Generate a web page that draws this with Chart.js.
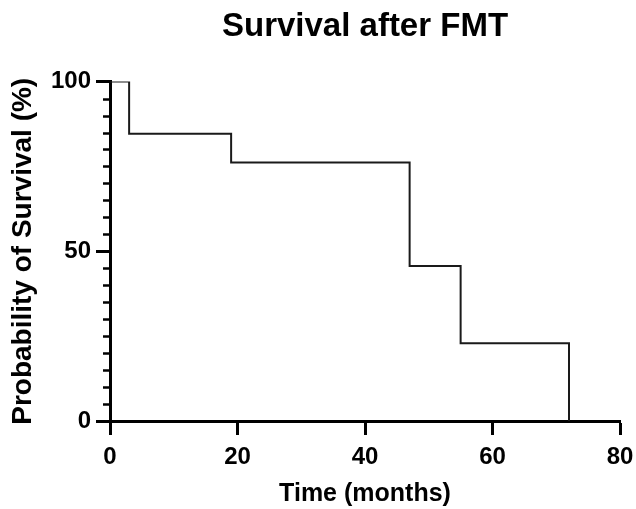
<!DOCTYPE html>
<html>
<head>
<meta charset="utf-8">
<script src="https://cdn.jsdelivr.net/npm/chart.js@4/dist/chart.umd.min.js"></script>
<style>
  html, body { margin: 0; padding: 0; background: #fff; }
  #wrap { width: 636px; height: 509px; }
</style>
</head>
<body>
<div id="wrap"><canvas id="km"></canvas></div>
<script>
// Kaplan-Meier survival after FMT
const timeMonths = [0, 3, 19, 47, 55, 72];
const survivalPct = [100, 84.6, 76.2, 45.7, 22.9, 0];
const xTicks = [0, 20, 40, 60, 80];
const yTicks = [0, 50, 100];
const yMinorStep = 5;

const FONT = "'Liberation Sans', Arial, sans-serif";

// short minor ticks on the y axis (Prism style)
const minorTicks = {
  id: 'minorTicks',
  afterDraw(chart) {
    const y = chart.scales.y;
    const ctx = chart.ctx;
    const x0 = y.right;
    ctx.save();
    ctx.strokeStyle = '#000';
    ctx.lineWidth = 2.5;
    for (let v = y.min; v <= y.max; v += yMinorStep) {
      if (yTicks.includes(v)) continue;
      const py = Math.round(y.getPixelForValue(v)) + 0.5;
      ctx.beginPath();
      ctx.moveTo(x0 - 7, py);
      ctx.lineTo(x0, py);
      ctx.stroke();
    }
    ctx.restore();
  }
};

new Chart(document.getElementById('km'), {
  type: 'line',
  data: {
    datasets: [{
      data: timeMonths.map((t, i) => ({ x: t, y: survivalPct[i] })),
      stepped: 'before',
      borderColor: '#1a1a1a',
      borderWidth: 2,
      pointRadius: 0,
      fill: false
    }]
  },
  options: {
    responsive: true,
    maintainAspectRatio: false,
    animation: false,
    layout: { padding: { left: 0, right: 16, top: 0, bottom: 0 } },
    plugins: {
      legend: { display: false },
      tooltip: { enabled: false },
      title: {
        display: true,
        text: 'Survival after FMT',
        color: '#000',
        fullSize: false,
        font: { family: FONT, size: 33, weight: 'bold' },
        padding: { top: 7, bottom: 35 }
      }
    },
    scales: {
      x: {
        type: 'linear',
        min: 0,
        max: 80,
        afterBuildTicks: s => { s.ticks = xTicks.map(v => ({ value: v })); },
        afterFit: s => { s.height = 88; s.paddingRight = 0; s.paddingLeft = 0; },
        border: { display: true, color: '#000', width: 3 },
        grid: { display: true, drawOnChartArea: false, drawTicks: true, tickLength: 14, tickWidth: 3, tickColor: '#000' },
        ticks: { color: '#000', padding: 8, font: { family: FONT, size: 24, weight: 'bold' } },
        title: {
          display: true,
          text: 'Time (months)',
          color: '#000',
          font: { family: FONT, size: 25, weight: 'bold' },
          padding: { top: 5, bottom: 0 }
        }
      },
      y: {
        min: 0,
        max: 100,
        afterBuildTicks: s => { s.ticks = yTicks.map(v => ({ value: v })); },
        afterFit: s => { s.width = 110; },
        border: { display: true, color: '#000', width: 3 },
        grid: { display: true, drawOnChartArea: false, drawTicks: true, tickLength: 14, tickWidth: 3, tickColor: '#000' },
        ticks: { color: '#000', padding: 5, font: { family: FONT, size: 24, weight: 'bold' } },
        title: {
          display: true,
          text: 'Probability of Survival (%)',
          color: '#000',
          font: { family: FONT, size: 28, weight: 'bold' },
          padding: { top: 6, bottom: 0 }
        }
      }
    }
  },
  plugins: [minorTicks]
});
</script>
</body>
</html>
